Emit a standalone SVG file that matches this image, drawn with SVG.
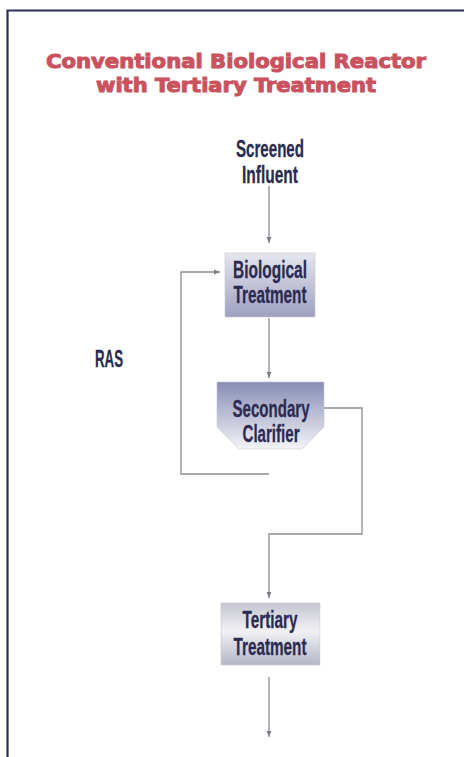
<svg xmlns="http://www.w3.org/2000/svg" width="464" height="757" viewBox="0 0 464 757">
<style>
.title{font-family:"DejaVu Sans","Liberation Sans",sans-serif;font-weight:bold;font-size:19px;fill:#c9525e;stroke:#c9525e;stroke-width:1}
.lbl{font-family:"Liberation Sans","DejaVu Sans",sans-serif;font-weight:bold;font-size:24px;fill:#2b2b52;stroke:#2b2b52;stroke-width:0.3}
.conn{fill:none;stroke:#8c8c92;stroke-width:1.3}
.box{stroke:#c8c8d4;stroke-width:0.6}
</style>
<defs>
<marker id="arr" viewBox="0 0 10 10" refX="10" refY="5" markerWidth="6" markerHeight="6" orient="auto" markerUnits="userSpaceOnUse">
<path d="M0,1 L10,5 L0,9 Z" fill="#7c7c84"/>
</marker>
<linearGradient id="gBio" x1="0" y1="0" x2="0" y2="1">
<stop offset="0" stop-color="#e6e6ef"/>
<stop offset="1" stop-color="#9da0bf"/>
</linearGradient>
<linearGradient id="gClar" x1="0" y1="0" x2="0" y2="1">
<stop offset="0" stop-color="#878db3"/>
<stop offset="1" stop-color="#f3f3f8"/>
</linearGradient>
<linearGradient id="gTer" x1="0" y1="0" x2="0" y2="1">
<stop offset="0" stop-color="#c4c5d0"/>
<stop offset="0.45" stop-color="#f1f1f5"/>
<stop offset="1" stop-color="#b4b6c5"/>
</linearGradient>
</defs>
<rect width="464" height="757" fill="#ffffff"/>
<path d="M7.5,757 V10.5 H464" fill="none" stroke="#2e2e5c" stroke-width="2.2"/>
<g id="title">
<text class="title" x="236" y="68" text-anchor="middle" textLength="380" lengthAdjust="spacingAndGlyphs">Conventional Biological Reactor</text>
<text class="title" x="236" y="92" text-anchor="middle" textLength="280" lengthAdjust="spacingAndGlyphs">with Tertiary Treatment</text>
</g>
<g id="connectors">
<path class="conn" d="M269,186 V243" marker-end="url(#arr)"/>
<path class="conn" d="M269,318 V378" marker-end="url(#arr)"/>
<path class="conn" d="M269,474 H181 V272 H220" marker-end="url(#arr)"/>
<path class="conn" d="M324,408 H362 V534 H269 V598" marker-end="url(#arr)"/>
<path class="conn" d="M269,677 V737" marker-end="url(#arr)"/>
</g>
<g id="screened-influent">
<text class="lbl" x="270" y="157" text-anchor="middle" textLength="68" lengthAdjust="spacingAndGlyphs">Screened</text>
<text class="lbl" x="270" y="183" text-anchor="middle" textLength="56" lengthAdjust="spacingAndGlyphs">Influent</text>
</g>
<g id="biological-treatment">
<rect class="box" x="225" y="253" width="90" height="64" fill="url(#gBio)"/>
<text class="lbl" x="270" y="278" text-anchor="middle" textLength="74" lengthAdjust="spacingAndGlyphs">Biological</text>
<text class="lbl" x="270" y="303" text-anchor="middle" textLength="73" lengthAdjust="spacingAndGlyphs">Treatment</text>
</g>
<g id="secondary-clarifier">
<path class="box" d="M217,382 H324 V427 L302,449 H239 L217,427 Z" fill="url(#gClar)"/>
<text class="lbl" x="271" y="417" text-anchor="middle" textLength="77" lengthAdjust="spacingAndGlyphs">Secondary</text>
<text class="lbl" x="271" y="442" text-anchor="middle" textLength="57" lengthAdjust="spacingAndGlyphs">Clarifier</text>
</g>
<g id="tertiary-treatment">
<rect class="box" x="221" y="603" width="99" height="62" fill="url(#gTer)"/>
<text class="lbl" x="270" y="628" text-anchor="middle" textLength="55" lengthAdjust="spacingAndGlyphs">Tertiary</text>
<text class="lbl" x="270" y="655" text-anchor="middle" textLength="73" lengthAdjust="spacingAndGlyphs">Treatment</text>
</g>
<g id="ras">
<text class="lbl" x="109" y="367" text-anchor="middle" textLength="28" lengthAdjust="spacingAndGlyphs">RAS</text>
</g>
</svg>
